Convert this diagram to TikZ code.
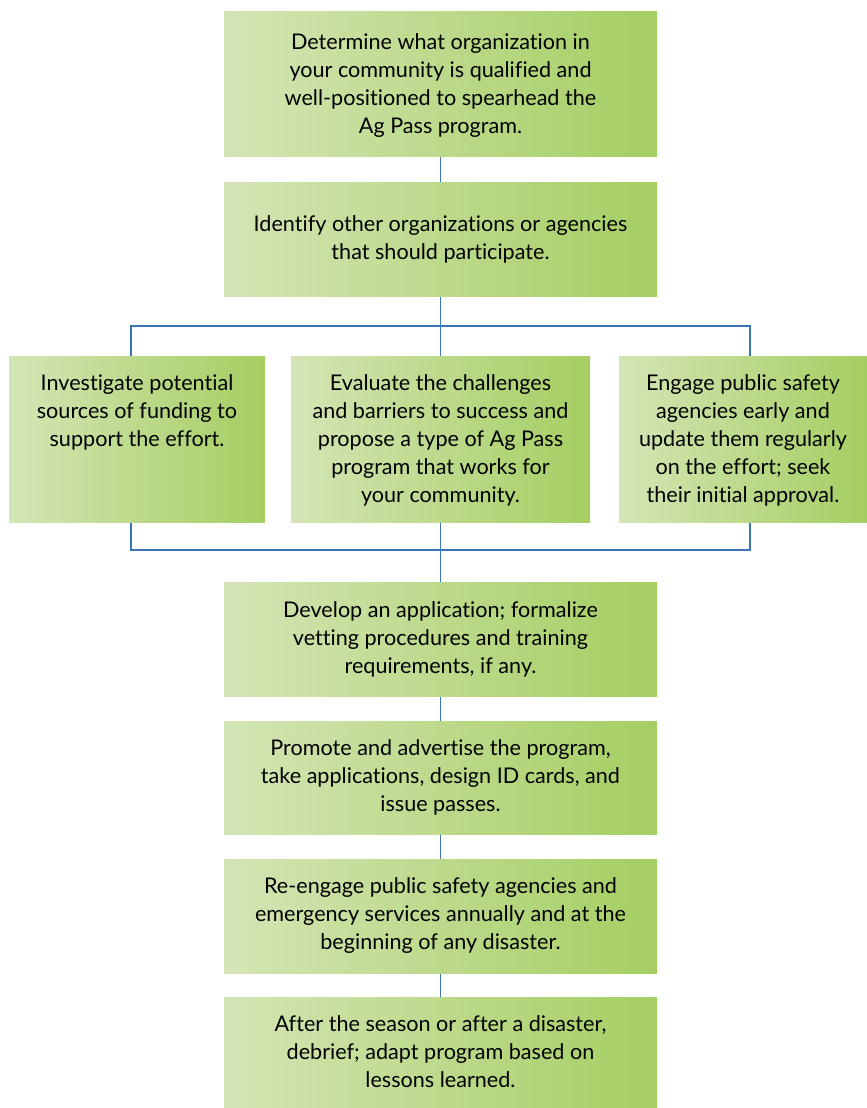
\documentclass[tikz,border=0pt]{standalone}
\usepackage{fontspec}
\setmainfont{Lato}[Ligatures={NoCommon}]
\usetikzlibrary{backgrounds}
\definecolor{gL}{HTML}{D4E5B5}
\definecolor{gR}{HTML}{A5CE62}
\definecolor{lineblue}{HTML}{3A75B6}
\newcommand{\boxtext}[4]{\parbox[c][#2pt][#3]{#1pt}{\centering #4}}
\tikzset{
  stepbox/.style={shading=axis, left color=gL, right color=gR, shading angle=90, inner sep=0pt, outer sep=0pt, anchor=north west, font=\fontsize{21.6}{28}\selectfont},
  conn/.style={draw=lineblue, line width=1.4pt}
}
\begin{document}
\begin{tikzpicture}[x=1pt,y=-1pt]
\useasboundingbox (0,0) rectangle (867,1108);
\node[stepbox] (b1) at (224,12) {\boxtext{433}{144}{c}{\vspace{4pt}Determine what organization in\\your community is qualified and\\well-positioned to spearhead the\\Ag Pass program.}};
\node[stepbox] (b2) at (224,182) {\boxtext{433}{114}{c}{Identify other organizations or agencies\\that should participate.}};
\node[stepbox] (s1) at (9,356) {\boxtext{256}{166}{t}{\vspace{19pt}Investigate potential\\sources of funding to\\support the effort.}};
\node[stepbox] (s2) at (291,356) {\boxtext{299}{166}{t}{\vspace{19pt}Evaluate the challenges\\and barriers to success and\\propose a type of Ag Pass\\program that works for\\your community.}};
\node[stepbox] (s3) at (619,356) {\boxtext{248}{166}{t}{\vspace{19pt}Engage public safety\\agencies early and\\update them regularly\\on the effort; seek\\their initial approval.}};
\node[stepbox] (b4) at (224,582) {\boxtext{433}{114}{c}{Develop an application; formalize\\vetting procedures and training\\requirements, if any.}};
\node[stepbox] (b5) at (224,721) {\boxtext{433}{113}{c}{Promote and advertise the program,\\take applications, design ID cards, and\\issue passes.}};
\node[stepbox] (b6) at (224,859) {\boxtext{433}{114}{c}{Re-engage public safety agencies and\\emergency services annually and at the\\beginning of any disaster.}};
\node[stepbox] (b7) at (224,997) {\boxtext{433}{110}{c}{After the season or after a disaster,\\debrief; adapt program based on\\lessons learned.}};
\coordinate (tl) at (131,326);
\coordinate (br) at (750,550);
\begin{scope}[on background layer]
\draw[conn] (b1.south) -- (b2.north);
\draw[conn] (b2.south) -- (b4.north);
\draw[conn] (tl) rectangle (br);
\draw[conn] (b4.south) -- (b5.north);
\draw[conn] (b5.south) -- (b6.north);
\draw[conn] (b6.south) -- (b7.north);
\end{scope}
\end{tikzpicture}
\end{document}
